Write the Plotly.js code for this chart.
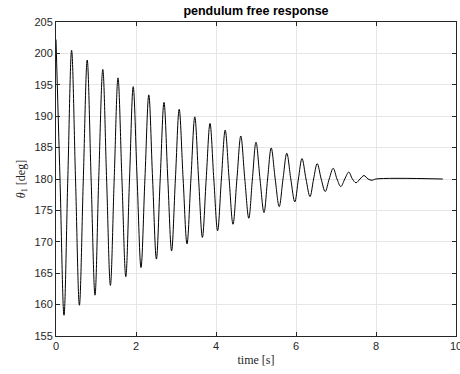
<!DOCTYPE html>
<html>
<head>
<meta charset="utf-8">
<script src="https://cdn.plot.ly/plotly-3.0.1.min.js"></script>
<style>html,body{margin:0;padding:0;background:#fff;}#chart{width:460px;height:374px;}</style>
</head>
<body>
<div id="chart"></div>
<script>
// Extremes and 180-degree crossings of the free response
const timeS = [0.00, 0.10, 0.20, 0.295, 0.39, 0.488, 0.585, 0.683, 0.78, 0.878, 0.975, 1.068, 1.17, 1.265, 1.36, 1.455, 1.55, 1.648, 1.745, 1.838, 1.93, 2.028, 2.125, 2.223, 2.32, 2.415, 2.51, 2.605, 2.70, 2.795, 2.89, 2.985, 3.08, 3.178, 3.275, 3.373, 3.47, 3.565, 3.66, 3.755, 3.85, 3.945, 4.04, 4.135, 4.23, 4.328, 4.425, 4.523, 4.62, 4.72, 4.82, 4.91, 5.00, 5.10, 5.20, 5.29, 5.38, 5.48, 5.58, 5.675, 5.77, 5.87, 5.97, 6.06, 6.15, 6.25, 6.35, 6.44, 6.53, 6.63, 6.73, 6.83, 6.93, 7.025, 7.12, 7.22, 7.32, 7.41, 7.50, 7.60, 7.70, 7.80, 7.90, 8.00, 9.67];
const thetaDeg = [202.2, 180, 158.3, 180, 200.5, 180, 159.9, 180, 198.95, 180, 161.5, 180, 197.45, 180, 163.05, 180, 196.1, 180, 164.45, 180, 194.7, 180, 165.9, 180, 193.4, 180, 167.25, 180, 192.2, 180, 168.55, 180, 191.1, 180, 169.65, 180, 189.9, 180, 170.7, 180, 188.85, 180, 171.75, 180, 187.8, 180, 172.8, 180, 186.85, 180, 173.75, 180, 185.85, 180, 174.65, 180, 184.95, 180, 175.6, 180, 184.1, 180, 176.35, 180, 183.25, 180, 177.2, 180, 182.45, 180, 178.0, 180, 181.7, 180, 178.8, 180, 181.1, 180, 179.4, 180, 180.55, 180, 179.8, 180, 180];

const xTicks = [0, 2, 4, 6, 8, 10];
const yTicks = [155, 160, 165, 170, 175, 180, 185, 190, 195, 200, 205];

const axisColor = '#262626';
const gridColor = '#e6e6e6';

const trace = {
  x: timeS,
  y: thetaDeg,
  type: 'scatter',
  mode: 'lines',
  line: {color: '#000000', width: 1, shape: 'spline', smoothing: 1},
  hoverinfo: 'skip'
};

const layout = {
  width: 460,
  height: 374,
  margin: {l: 56, r: 4, t: 22, b: 38, pad: 0},
  paper_bgcolor: '#ffffff',
  plot_bgcolor: '#ffffff',
  showlegend: false,
  title: {
    text: '<b>pendulum free response</b>',
    font: {family: 'Liberation Sans, Arial, sans-serif', size: 12.5, color: '#000000'},
    x: 0.5565, xanchor: 'center', y: 0.972, yanchor: 'middle'
  },
  xaxis: {
    range: [0, 10],
    tickvals: xTicks,
    ticktext: xTicks.map(String),
    ticklabeloverflow: 'allow',
    ticks: 'inside', ticklen: 4, tickwidth: 1, tickcolor: axisColor,
    showline: true, linecolor: axisColor, linewidth: 1, mirror: 'ticks',
    showgrid: true, gridcolor: gridColor, gridwidth: 1,
    zeroline: false,
    tickfont: {family: 'Liberation Sans, Arial, sans-serif', size: 11, color: axisColor},
    title: {text: 'time [s]', font: {family: 'Liberation Serif, DejaVu Serif, serif', size: 12, color: axisColor}, standoff: 4}
  },
  yaxis: {
    range: [155, 205],
    tickvals: yTicks,
    ticktext: yTicks.map(String),
    ticks: 'inside', ticklen: 4, tickwidth: 1, tickcolor: axisColor,
    showline: true, linecolor: axisColor, linewidth: 1, mirror: 'ticks',
    showgrid: true, gridcolor: gridColor, gridwidth: 1,
    zeroline: false,
    tickfont: {family: 'Liberation Sans, Arial, sans-serif', size: 11, color: axisColor},
    title: {text: '<i>θ</i><sub>1</sub> [deg]', font: {family: 'Liberation Serif, DejaVu Serif, serif', size: 12, color: axisColor}, standoff: 6}
  }
};

Plotly.newPlot('chart', [trace], layout, {displayModeBar: false, staticPlot: true});
</script>
</body>
</html>
